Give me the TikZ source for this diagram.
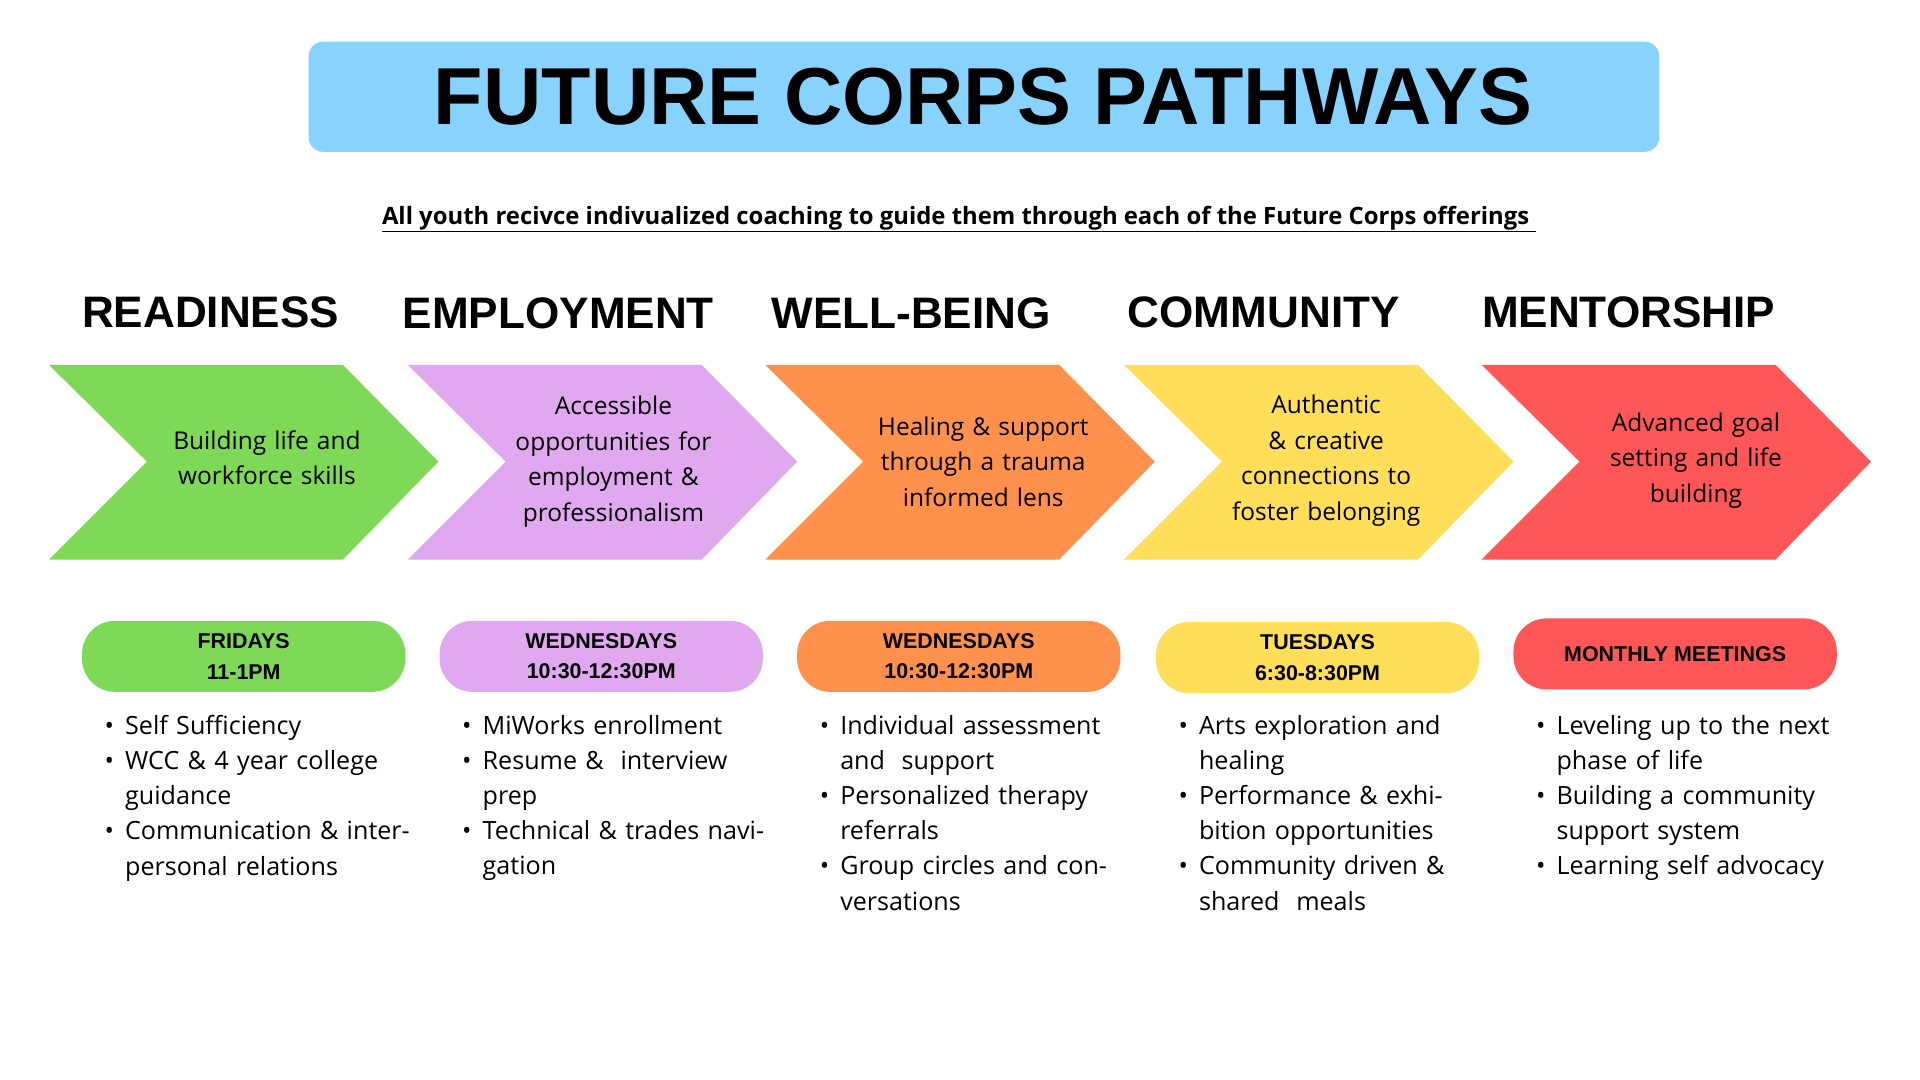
\documentclass[tikz,border=0pt]{standalone}
\usepackage{fontspec}
\setmainfont{Open Sans}
\newfontfamily\headf{Liberation Sans}
\usetikzlibrary{positioning}
\definecolor{cA}{HTML}{7ED957}
\definecolor{cB}{HTML}{E0A8EE}
\definecolor{cC}{HTML}{FF914D}
\definecolor{cD}{HTML}{FFDE59}
\definecolor{cE}{HTML}{FF5757}
\definecolor{ttl}{HTML}{87D3FE}
\begin{document}
\begin{tikzpicture}[x=1pt,y=-1pt,
  head/.style={font=\headf\fontsize{36}{40}\selectfont\bfseries,anchor=center},
  ctext/.style={align=center,font=\fontsize{20}{29}\selectfont,text width=190pt},
  pill/.style={rounded corners=27pt,minimum width=264pt,minimum height=58pt,align=center,font=\headf\fontsize{17.5}{25}\selectfont\bfseries},
  blist/.style={anchor=north west,align=left,text width=235pt,font=\fontsize{20.5}{28.7}\selectfont,inner sep=0pt}]
\useasboundingbox[fill=white] (0,0) rectangle (1568,882);
\fill[ttl,rounded corners=12pt] (252,34) rectangle (1355,124);
\node[font=\headf\fontsize{66}{70}\selectfont\bfseries] (title) at (803,79) {FUTURE CORPS PATHWAYS};
\node[font=\fontsize{19.5}{24}\selectfont\bfseries] (sub) at (783,179) {\underline{All youth recivce indivualized coaching to guide them through each of the Future Corps offerings\ }};
\newcommand{\chev}[3]{\fill[#2] (#1,298) -- ++(240,0) -- ++(78,79) -- ++(-78,80) -- ++(-240,0) -- ++(80,-80) -- cycle;}
\chev{40}{cA}{}
\chev{333}{cB}{}
\chev{625}{cC}{}
\chev{918}{cD}{}
\chev{1210}{cE}{}
\node[head] (h1) at (172,255) {READINESS};
\node[head] (h2) at (456,256) {EMPLOYMENT};
\node[head] (h3) at (744,256) {WELL-BEING};
\node[head] (h4) at (1032,255) {COMMUNITY};
\node[head] (h5) at (1330,255) {MENTORSHIP};
\node[ctext] (c1) at (218,374) {Building life and\\workforce skills};
\node[ctext] (c2) at (501,377) {Accessible\\opportunities for\\employment \&\\professionalism};
\node[ctext] (c3) at (803,377) {Healing \& support\\through a trauma\\informed lens};
\node[ctext] (c4) at (1083,376) {Authentic \& creative\\connections to\\foster belonging};
\node[ctext] (c5) at (1385,376) {Advanced goal\\setting and life\\building};
\node[pill,fill=cA] (p1) at (199,536) {FRIDAYS\\11-1PM};
\node[pill,fill=cB] (p2) at (491,536) {WEDNESDAYS\\10:30-12:30PM};
\node[pill,fill=cC] (p3) at (783,536) {WEDNESDAYS\\10:30-12:30PM};
\node[pill,fill=cD] (p4) at (1076,537) {TUESDAYS\\6:30-8:30PM};
\node[pill,fill=cE] (p5) at (1368,534) {MONTHLY MEETINGS};
\newcommand{\blt}[1]{\makebox[0pt][r]{\textbullet\hspace{9pt}}#1\par}
\node[blist] (l1) at (102,584) {\blt{Self Sufficiency}\blt{WCC \& 4 year college guidance}\blt{Communication \& interpersonal relations}};
\node[blist] (l2) at (394,584) {\blt{MiWorks enrollment}\blt{Resume \&\ \ interview prep}\blt{Technical \& trades navigation}};
\node[blist] (l3) at (686,584) {\blt{Individual assessment and\ \ support}\blt{Personalized therapy referrals}\blt{Group circles and conversations}};
\node[blist,text width=215pt] (l4) at (979,584) {\blt{Arts exploration and healing}\blt{Performance \& exhibition opportunities}\blt{Community driven \& shared\ \ meals}};
\node[blist] (l5) at (1271,584) {\blt{Leveling up to the next phase of life}\blt{Building a community support system}\blt{Learning self advocacy}};
\end{tikzpicture}
\end{document}
